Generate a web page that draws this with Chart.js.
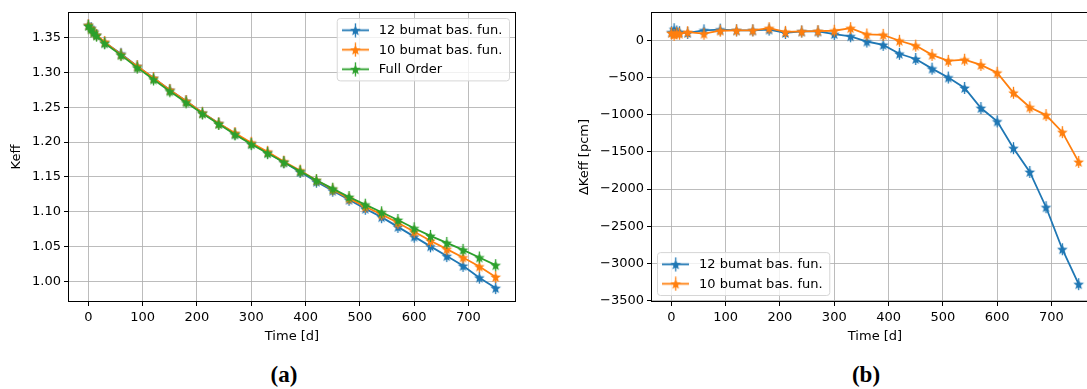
<!DOCTYPE html>
<html>
<head>
<meta charset="utf-8">
<script src="https://cdn.jsdelivr.net/npm/chart.js@4"></script>
<style>
  html, body { margin: 0; padding: 0; background: #fff; overflow: hidden; width: 1087px; height: 389px; }
  canvas { position: absolute; top: 0; }
  #keffChart { left: 0; }
  #deltaChart { left: 545px; }
  .cap { position: absolute; font-family: 'Liberation Serif', serif; font-weight: bold; font-size: 23px; color: #000; transform: translate(-50%, -50%); }
</style>
</head>
<body>
<canvas id="keffChart" width="545" height="350"></canvas>
<canvas id="deltaChart" width="560" height="350"></canvas>
<div class="cap" style="left:284px; top:375px;">(a)</div>
<div class="cap" style="left:866px; top:375px;">(b)</div>
<script>
// burnup steps [days]
let days = [0, 5, 10, 15, 30, 60, 90, 120, 150, 180, 210, 240, 270, 300, 330, 360, 390,
  420, 450, 480, 510, 540, 570, 600, 630, 660, 690, 720, 750]

// keff for the reduced models and the full order model
let keff12 = [1.368, 1.364, 1.359, 1.354, 1.343, 1.327, 1.309, 1.292, 1.275, 1.259, 1.242, 1.227, 1.212, 1.198, 1.185, 1.171, 1.157,
  1.143, 1.130, 1.117, 1.104, 1.092, 1.078, 1.064, 1.050, 1.036, 1.022, 1.005, 0.990]
let keff10 = [1.368, 1.363, 1.358, 1.354, 1.344, 1.326, 1.309, 1.292, 1.275, 1.259, 1.242, 1.227, 1.213, 1.199, 1.186, 1.172, 1.159,
  1.145, 1.132, 1.119, 1.107, 1.096, 1.084, 1.071, 1.058, 1.046, 1.034, 1.021, 1.006]
let keffFull = [1.367, 1.362, 1.357, 1.353, 1.342, 1.325, 1.307, 1.290, 1.273, 1.257, 1.241, 1.226, 1.211, 1.197, 1.184, 1.171, 1.158,
  1.145, 1.133, 1.121, 1.110, 1.099, 1.088, 1.076, 1.065, 1.055, 1.045, 1.034, 1.023]

// keff difference to full order [pcm]
let dk12 = [108, 150, 120, 110, 100, 135, 145, 135, 135, 145, 100, 120, 120, 85, 55, -15, -60,
  -180, -250, -380, -500, -640, -910, -1090, -1450, -1770, -2245, -2810, -3280]
let dk10 = [100, 75, 100, 90, 112, 90, 130, 135, 135, 165, 115, 120, 125, 130, 165, 80, 75,
  -5, -70, -195, -275, -260, -330, -435, -705, -900, -1005, -1235, -1635]

// tick labels
let timeTicks = [0, 100, 200, 300, 400, 500, 600, 700]
let keffTicks = [1.00, 1.05, 1.10, 1.15, 1.20, 1.25, 1.30, 1.35]
let dkTicks = [0, -500, -1000, -1500, -2000, -2500, -3000, -3500]

let labels12 = '12 bumat bas. fun.'
let labels10 = '10 bumat bas. fun.'
let labelFull = 'Full Order'

const BLUE = '#1f77b4', ORANGE = '#ff7f0e', GREEN = '#2ca02c'

Chart.defaults.font.family = "'DejaVu Sans', sans-serif"
Chart.defaults.font.size = 13
Chart.defaults.color = '#000'

// filled 5 point star, optionally with the legend line through it
function starImage(color, legend) {
  const c = document.createElement('canvas')
  const w = legend ? 27 : 13, h = legend ? 15 : 14
  c.width = w; c.height = h
  const g = c.getContext('2d')
  const cx = w / 2, cy = h / 2
  g.strokeStyle = color; g.fillStyle = color
  if (legend) {
    g.lineWidth = 1.8
    g.beginPath(); g.moveTo(0, cy); g.lineTo(w, cy); g.stroke()
  }
  g.lineWidth = 1.3
  g.beginPath(); g.moveTo(cx, legend ? 0.5 : 1); g.lineTo(cx, legend ? h - 0.5 : h - 1); g.stroke()
  g.beginPath()
  for (let i = 0; i < 10; i++) {
    const r = i % 2 ? 2.4 : 5.6
    const a = -Math.PI / 2 + i * Math.PI / 5
    const px = cx + r * Math.cos(a), py = cy + 0.5 + r * Math.sin(a)
    if (i === 0) g.moveTo(px, py); else g.lineTo(px, py)
  }
  g.closePath()
  g.fill()
  return c
}

// black frame round the plot area + matplotlib style legend box
const frameLegend = {
  id: 'frameLegend',
  afterDatasetsDraw(chart, args, opts) {
    const ctx = chart.ctx, a = chart.chartArea
    ctx.save()
    ctx.strokeStyle = '#000'
    ctx.lineWidth = 1
    ctx.strokeRect(Math.round(a.left) + 0.5, Math.round(a.top) + 0.5,
      Math.round(a.right - a.left) - 1, Math.round(a.bottom - a.top) - 1)

    const fs = 13, pad = 5.2, handle = 26, gap = 10.4, space = 6.5
    ctx.font = fs + "px 'DejaVu Sans'"
    const items = chart.data.datasets.map(d => d.label)
    let tw = 0
    items.forEach(t => { tw = Math.max(tw, ctx.measureText(t).width) })
    const bw = pad * 2 + handle + gap + tw + 2
    const bh = pad * 2 + items.length * fs + (items.length - 1) * space
    let bx, by
    if (opts.corner === 'upper right') {
      bx = a.right - 6.5 - bw
      by = a.top + 6.5
    } else {
      bx = a.left + 6.5
      by = a.bottom - 6.5 - bh
    }
    ctx.beginPath()
    ctx.roundRect(bx, by, bw, bh, 3)
    ctx.fillStyle = 'rgba(255,255,255,0.8)'
    ctx.fill()
    ctx.strokeStyle = '#d6d6d6'
    ctx.stroke()
    ctx.textBaseline = 'middle'
    ctx.textAlign = 'left'
    chart.data.datasets.forEach((d, i) => {
      const cy = by + pad + fs / 2 + i * (fs + space)
      const img = starImage(d.borderColor, true)
      ctx.drawImage(img, bx + pad + handle / 2 - img.width / 2, cy - img.height / 2)
      ctx.fillStyle = '#000'
      ctx.fillText(d.label, bx + pad + handle + gap, cy + 0.5)
    })
    ctx.restore()
  }
}

function series(label, values, color, order) {
  return {
    label: label,
    data: days.map((t, i) => ({ x: t, y: values[i] })),
    borderColor: color,
    backgroundColor: color,
    borderWidth: 1.8,
    pointStyle: starImage(color, false),
    pointRadius: 4,
    pointHoverRadius: 4,
    tension: 0,
    order: order
  }
}

function axisX(ticksList) {
  return {
    type: 'linear',
    min: -37.5, max: 787.5,
    afterBuildTicks: s => { s.ticks = ticksList.map(v => ({ value: v })) },
    afterFit: s => { s.height = 48 },
    grid: { color: 'rgba(176,176,176,0.85)', lineWidth: 1, tickColor: '#000', tickLength: 4 },
    border: { display: false },
    ticks: { padding: 4, maxRotation: 0, callback: v => String(v) },
    title: { display: true, text: 'Time [d]', padding: { top: 0, bottom: 6 } }
  }
}

function createChart(id, datasets, yOpts, corner, leftW, padRight) {
  const ctx = document.getElementById(id).getContext('2d')
  return new Chart(ctx, {
    type: 'line',
    data: { datasets: datasets },
    options: {
      responsive: false,
      animation: false,
      events: [],
      layout: { padding: { left: 0, top: 12, right: padRight, bottom: 0 } },
      scales: {
        x: axisX(timeTicks),
        y: Object.assign({
          type: 'linear',
          afterFit: s => { s.width = leftW },
          grid: { color: 'rgba(176,176,176,0.85)', lineWidth: 1, tickColor: '#000', tickLength: 4 },
          border: { display: false }
        }, yOpts)
      },
      plugins: {
        legend: { display: false },
        tooltip: { enabled: false },
        frameLegend: { corner: corner }
      }
    },
    plugins: [frameLegend]
  })
}

createChart('keffChart', [
  series(labels12, keff12, BLUE, 2),
  series(labels10, keff10, ORANGE, 1),
  series(labelFull, keffFull, GREEN, 0)
], {
  min: 0.970, max: 1.387,
  afterBuildTicks: s => { s.ticks = keffTicks.map(v => ({ value: v })) },
  ticks: { padding: 3, callback: v => v.toFixed(2) },
  title: { display: true, text: 'Keff', padding: { top: 9, bottom: 0 } }
}, 'upper right', 68, 29)

createChart('deltaChart', [
  series(labels12, dk12, BLUE, 1),
  series(labels10, dk10, ORANGE, 0)
], {
  min: -3520, max: 382,
  afterBuildTicks: s => { s.ticks = dkTicks.map(v => ({ value: v })) },
  ticks: { padding: 3, callback: v => (v < 0 ? '\u2212' + Math.abs(v) : String(v)) },
  title: { display: true, text: '\u0394Keff [pcm]', padding: { top: 32, bottom: 0 } }
}, 'lower left', 106, 6)
</script>
</body>
</html>
